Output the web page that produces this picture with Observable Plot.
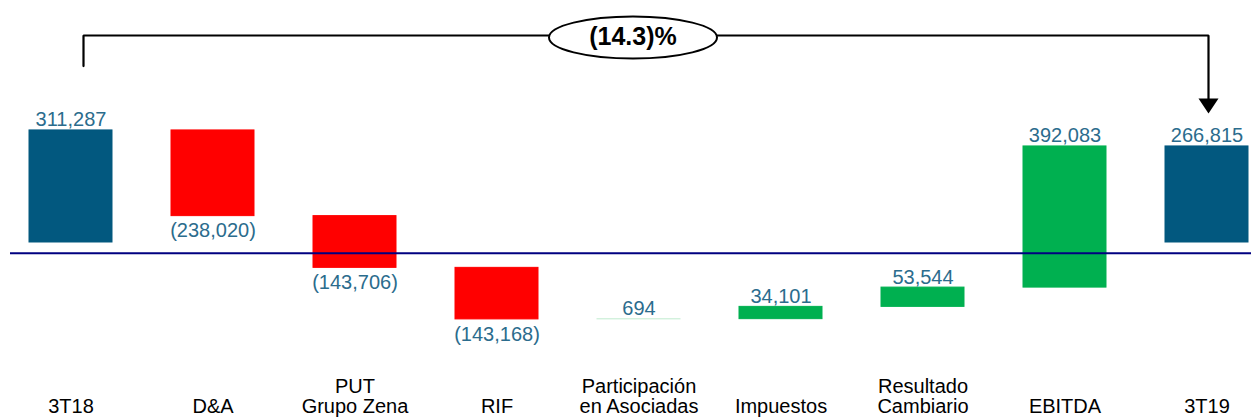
<!DOCTYPE html>
<html>
<head>
<meta charset="utf-8">
<script src="https://cdn.jsdelivr.net/npm/d3@7"></script>
<script src="https://cdn.jsdelivr.net/npm/@observablehq/plot@0.6"></script>
<style>
  html, body { margin: 0; padding: 0; background: #fff; }
  #chart svg { display: block; }
</style>
</head>
<body>
<div id="chart"></div>
<script>
// ---- data ----
const categories = ["3T18", "D&A", "PUT\nGrupo Zena", "RIF", "Participación\nen Asociadas", "Impuestos", "Resultado\nCambiario", "EBITDA", "3T19"];
const values = [311287, -238020, -143706, -143168, 694, 34101, 53544, 392083, 266815];
const kinds = ["total", "delta", "delta", "delta", "delta", "delta", "delta", "delta", "total"];
const valueLabels = ["311,287", "(238,020)", "(143,706)", "(143,168)", "694", "34,101", "53,544", "392,083", "266,815"];
const changeLabel = "(14.3)%";
const referenceLine = -30000;
// bracket levels (data units)
const bracketTop = 575000;
const bracketLeftEnd = 490000;
const bracketRightEnd = 392000;
const arrowHead = 379000;

// ---- build waterfall rows ----
let running = 0;
const rows = categories.map((c, i) => {
  let y1, y2;
  if (kinds[i] === "total") { y1 = 0; y2 = values[i]; running = values[i]; }
  else { y1 = running; y2 = running + values[i]; running = y2; }
  const color = kinds[i] === "total" ? "#02587F" : (values[i] < 0 ? "#FF0000" : (Math.abs(values[i]) < 5000 ? "#CDEFD9" : "#00B050"));
  return { cat: c, y1, y2, top: Math.max(y1, y2), bottom: Math.min(y1, y2), neg: values[i] < 0, label: valueLabels[i], color };
});

const downTriangle = {
  draw(ctx, size) {
    const s = Math.sqrt(size / Math.PI);
    ctx.moveTo(-s, -0.75 * s);
    ctx.lineTo(s, -0.75 * s);
    ctx.lineTo(0, 0.75 * s);
    ctx.closePath();
  }
};
const wideEllipse = {
  draw(ctx, size) {
    const s = Math.sqrt(size / Math.PI);
    const rx = 4 * s, ry = s, k = 0.5523;
    ctx.moveTo(-rx, 0);
    ctx.bezierCurveTo(-rx, -k * ry, -k * rx, -ry, 0, -ry);
    ctx.bezierCurveTo(k * rx, -ry, rx, -k * ry, rx, 0);
    ctx.bezierCurveTo(rx, k * ry, k * rx, ry, 0, ry);
    ctx.bezierCurveTo(-k * rx, ry, -rx, k * ry, -rx, 0);
    ctx.closePath();
  }
};

const mid = categories[4];
const first = categories[0];
const last = categories[categories.length - 1];
const labelColor = "#2B6C8D";

const chart = Plot.plot({
  width: 1251,
  height: 417,
  marginTop: 0,
  marginBottom: 0,
  marginLeft: 10,
  marginRight: 0,
  style: { fontFamily: "'Liberation Sans', Arial, sans-serif", background: "#fff" },
  x: { domain: categories, paddingInner: 0.415, paddingOuter: 0.077, align: 0.864, axis: null },
  y: { domain: [-486111, 672222], axis: null },
  color: { type: "identity" },
  marks: [
    Plot.barY(rows, { x: "cat", y1: "y1", y2: "y2", fill: "color", stroke: "color", strokeWidth: 1 }),
    Plot.ruleY([referenceLine], { stroke: "#000080", strokeWidth: 2 }),
    Plot.text(rows.filter(d => !d.neg), { x: "cat", y: "top", text: "label", lineAnchor: "bottom", dy: -4, fontSize: 20, fill: labelColor }),
    Plot.text(rows.filter(d => d.neg), { x: "cat", y: "bottom", text: "label", lineAnchor: "top", dy: 7, fontSize: 20, fill: labelColor }),
    Plot.text(categories, { x: d => d, text: d => d, frameAnchor: "bottom", lineAnchor: "bottom", dy: -5, fontSize: 20, fill: "#000", lineHeight: 1 }),
    // bracket
    Plot.line([{ c: first, v: bracketLeftEnd }, { c: first, v: bracketTop }, { c: mid, v: bracketTop }], { x: "c", y: "v", dx: 12.5, stroke: "#000", strokeWidth: 2.2, strokeLinejoin: "miter" }),
    Plot.line([{ c: mid, v: bracketTop }, { c: last, v: bracketTop }, { c: last, v: bracketRightEnd }], { x: "c", y: "v", dx: 1.5, stroke: "#000", strokeWidth: 2.2, strokeLinejoin: "miter" }),
    Plot.dot([{ c: last, v: arrowHead }], { x: "c", y: "v", dx: 1.5, r: 10, symbol: downTriangle, fill: "#000", stroke: "none" }),
    Plot.dot([{ c: mid, v: bracketTop }], { x: "c", y: "v", dx: -6, dy: 2, r: 21, symbol: wideEllipse, fill: "#fff", stroke: "#000", strokeWidth: 2 }),
    Plot.text([changeLabel], { x: () => mid, y: () => bracketTop, text: d => d, dx: -6, dy: 2, fontSize: 25, fontWeight: "bold", fill: "#000" })
  ]
});
document.getElementById("chart").appendChild(chart);
</script>
</body>
</html>
